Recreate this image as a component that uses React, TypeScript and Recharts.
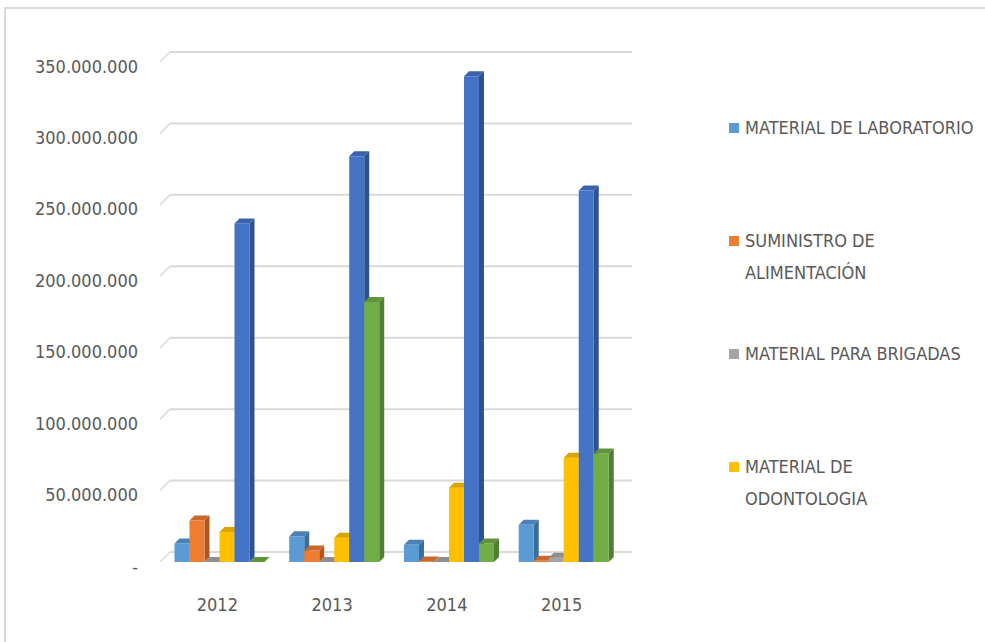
import React from 'react';
import { BarChart, Bar, XAxis, YAxis, CartesianGrid } from 'recharts';

const years = ['2012', '2013', '2014', '2015'];
const labValues = [13000000, 18000000, 12000000, 26000000];
const aliValues = [29000000, 8000000, 400000, 800000];
const briValues = [0, 0, 0, 3000000];
const odoValues = [21000000, 17000000, 52000000, 73000000];
const medValues = [237000000, 284000000, 340000000, 260000000];
const insValues = [0, 182000000, 13000000, 76000000];
const yTicks = [0, 50000000, 100000000, 150000000, 200000000, 250000000, 300000000, 350000000];

const seriesKeys = ['lab', 'ali', 'bri', 'odo', 'med', 'ins'];
const seriesNames = [
  'MATERIAL DE LABORATORIO',
  'SUMINISTRO DE ALIMENTACIÓN',
  'MATERIAL PARA BRIGADAS',
  'MATERIAL DE ODONTOLOGIA',
  'MATERIAL MÉDICO QUIRÚRGICO',
  'MEDICAMENTOS',
];
const legendLines = [
  ['MATERIAL DE LABORATORIO'],
  ['SUMINISTRO DE', 'ALIMENTACIÓN'],
  ['MATERIAL PARA BRIGADAS'],
  ['MATERIAL DE', 'ODONTOLOGIA'],
];

const frontColors = ['#5B9BD5', '#ED7D31', '#A5A5A5', '#FFC000', '#4472C4', '#70AD47'];
const topColors = ['#4A82B8', '#C9682A', '#8E8E8E', '#D9A400', '#3A63AD', '#5F943C'];
const sideColors = ['#3B6D9C', '#AE5720', '#7A7A7A', '#BF9000', '#2E5191', '#4F7D31'];

const valueLists = [labValues, aliValues, briValues, odoValues, medValues, insValues];
const data = years.map((year, i) => {
  const row: Record<string, any> = { year };
  seriesKeys.forEach((k, s) => {
    row[k] = valueLists[s][i];
  });
  return row;
});

const FONT = '"DejaVu Sans Condensed", "Liberation Sans Narrow", "Open Sans", sans-serif';
const TEXT = '#595959';
const DX = 5;
const DY = 5;

const fmt = (v: number) => (v === 0 ? '-' : v.toLocaleString('en-US').replace(/,/g, '.'));

const make3D = (s: number) => (props: any) => {
  const { x, y, width, height } = props;
  if (x == null || y == null || width == null) return <g />;
  const h = Math.max(0, height || 0);
  const top = `M${x},${y} L${x + DX},${y - DY} L${x + width + DX},${y - DY} L${x + width},${y} Z`;
  const side = `M${x + width},${y} L${x + width + DX},${y - DY} L${x + width + DX},${y + h - DY} L${x + width},${y + h} Z`;
  return (
    <g>
      <path d={side} fill={sideColors[s]} />
      <rect x={x} y={y} width={width} height={h} fill={frontColors[s]} />
      <path d={top} fill={topColors[s]} />
    </g>
  );
};

const YTick = (props: any) => {
  const { x, y, payload } = props;
  return (
    <text x={x} y={y + 4} textAnchor="end" dominantBaseline="central" fill={TEXT} fontSize={18} fontFamily={FONT}>
      {fmt(payload.value)}
    </text>
  );
};

const XTick = (props: any) => {
  const { x, y, payload } = props;
  return (
    <text x={x - 3} y={y} textAnchor="middle" dominantBaseline="central" fill={TEXT} fontSize={18} fontFamily={FONT}>
      {payload.value}
    </text>
  );
};

const gridLine = (p: any) => {
  const { x1, y1, x2, key } = p;
  return (
    <g key={key}>
      <line x1={x1 - 3} y1={y1} x2={x1 + 7} y2={y1 - 10} stroke="#D9D9D9" strokeWidth={1.5} />
      <line x1={x1 + 7} y1={y1 - 10} x2={x2 + 10} y2={y1 - 10} stroke="#D9D9D9" strokeWidth={2} />
    </g>
  );
};

const LegendBlock = () => (
  <div style={{ position: 'absolute', left: 729, top: 112, fontFamily: FONT, color: TEXT, fontSize: 18 }}>
    {legendLines.map((lines, i) => (
      <div key={i} style={{ position: 'absolute', left: 0, top: i * 113, display: 'flex' }}>
        <div style={{ width: 10, height: 10, background: frontColors[i], marginTop: 11, marginRight: 6, flexShrink: 0 }} />
        <div>
          {lines.map((l, j) => (
            <div key={j} style={{ height: 32, lineHeight: '32px', whiteSpace: 'nowrap' }}>
              {l}
            </div>
          ))}
        </div>
      </div>
    ))}
  </div>
);

export default function App() {
  return (
    <div style={{ position: 'absolute', left: 0, top: 0, width: 985, height: 642, overflow: 'hidden', background: '#fff' }}>
      <div
        style={{
          position: 'absolute',
          left: 4,
          top: 7,
          width: 1100,
          height: 800,
          border: '2px solid #D9D9D9',
        }}
      />
      <div style={{ position: 'absolute', left: 0, top: 0 }}>
        <BarChart
          width={985}
          height={642}
          data={data}
          margin={{ top: 62, right: 363, bottom: 50, left: 3 }}
          barCategoryGap="10%"
          barGap={0}
        >
          <CartesianGrid vertical={false} horizontal={gridLine} />
          <XAxis
            dataKey="year"
            axisLine={false}
            tickLine={false}
            tickSize={0}
            tickMargin={42}
            height={30}
            tick={<XTick />}
            interval={0}
          />
          <YAxis
            domain={[0, 350000000]}
            ticks={yTicks}
            axisLine={false}
            tickLine={false}
            tickSize={0}
            tickMargin={25}
            width={160}
            tick={<YTick />}
            interval={0}
          />
          {seriesKeys.map((k, s) => (
            <Bar key={k} dataKey={k} name={seriesNames[s]} fill={frontColors[s]} shape={make3D(s)} isAnimationActive={false} />
          ))}
        </BarChart>
      </div>
      <LegendBlock />
    </div>
  );
}
